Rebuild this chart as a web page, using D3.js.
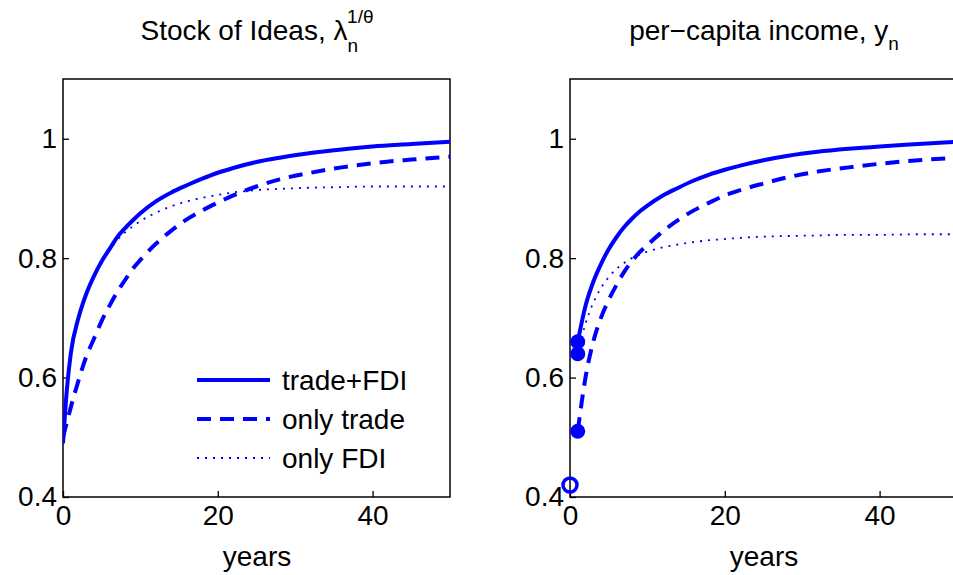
<!DOCTYPE html><html><head><meta charset="utf-8">
<script src="https://cdn.jsdelivr.net/npm/d3@7"></script>
<style>body{margin:0;background:#fff}text{font-family:"Liberation Sans",Arial,sans-serif}</style></head><body>
<svg id="c" width="953" height="575"></svg>
<script>
const years = [0,0.5,1,2,3,4,5,6,7,8,9,10,12,14,16,18,20,22,25,28,32,36,40,45,50];
const ideasTradeFDI = [0.49,0.58,0.64,0.70,0.74,0.77,0.795,0.815,0.835,0.85,0.863,0.875,0.895,0.91,0.922,0.933,0.943,0.951,0.961,0.968,0.976,0.982,0.987,0.991,0.995];
const ideasTrade =    [0.50,0.525,0.55,0.595,0.635,0.665,0.695,0.72,0.743,0.763,0.782,0.797,0.824,0.846,0.865,0.88,0.893,0.905,0.92,0.932,0.943,0.952,0.959,0.965,0.97];
const ideasFDI =      [0.49,0.58,0.64,0.70,0.74,0.77,0.795,0.813,0.83,0.843,0.853,0.862,0.876,0.887,0.895,0.901,0.906,0.91,0.914,0.916,0.918,0.919,0.92,0.92,0.92];
const yYears = [1,2,3,4,5,6,7,8,9,10,12,14,16,18,20,22,25,28,32,36,40,45,50];
const incTradeFDI = [0.66,0.72,0.76,0.79,0.815,0.835,0.852,0.866,0.878,0.888,0.905,0.918,0.93,0.94,0.948,0.955,0.964,0.971,0.978,0.983,0.987,0.991,0.995];
const incTrade =    [0.51,0.60,0.66,0.70,0.73,0.755,0.777,0.795,0.81,0.822,0.845,0.864,0.88,0.893,0.905,0.914,0.925,0.935,0.945,0.952,0.958,0.964,0.968];
const incFDI =      [0.64,0.69,0.725,0.75,0.768,0.782,0.792,0.8,0.806,0.811,0.818,0.823,0.827,0.83,0.832,0.834,0.836,0.837,0.838,0.839,0.839,0.84,0.84];
const startOpen = [0, 0.42];
const startDots = [[1,0.66],[1,0.64],[1,0.51]];
const xTicks = [0,20,40], yTicks = [0.4,0.6,0.8,1];
const seriesNames = ["trade+FDI","only trade","only FDI"];
const styles = [{w:4,d:null},{w:4,d:"14,9"},{w:1.8,d:"2,6"}];

const svg = d3.select("#c"), blue="#0000ff", FS=28;
function panel(x0, title, sets, markers){
  const x = d3.scaleLinear([0,50],[x0,x0+387]);
  const y = d3.scaleLinear([0.4,1.1],[497,79]);
  const g = svg.append("g");
  g.append("rect").attr("x",x0).attr("y",79).attr("width",387).attr("height",418).attr("fill","none").attr("stroke","#000").attr("stroke-width",1.5);
  g.append("g").attr("transform","translate(0,497)").call(d3.axisBottom(x).tickValues(xTicks).tickSize(-6).tickPadding(8))
   .call(a=>{a.select(".domain").remove();a.selectAll("line").attr("stroke-width",1.3);a.selectAll("text").attr("font-size",FS).attr("fill","#000");});
  g.append("g").attr("transform",`translate(${x0},0)`).call(d3.axisLeft(y).tickValues(yTicks).tickSize(-6).tickPadding(6).tickFormat(d3.format("")))
   .call(a=>{a.select(".domain").remove();a.selectAll("line").attr("stroke-width",1.3);a.selectAll("text").attr("font-size",FS).attr("fill","#000");});
  g.append("text").attr("x",x0+194).attr("y",566).attr("text-anchor","middle").attr("font-size",FS).text("years");
  g.append("text").attr("x",x0+194).attr("y",40).attr("text-anchor","middle").attr("font-size",FS).html(title);
  const cp = "clip"+x0;
  g.append("clipPath").attr("id",cp).append("rect").attr("x",x0).attr("y",79).attr("width",387).attr("height",418);
  sets.forEach((s,i)=>{
    g.append("path").attr("clip-path",`url(#${cp})`).datum(s.t.map((t,j)=>[t,s.v[j]]))
     .attr("d",d3.line().x(d=>x(d[0])).y(d=>y(d[1])).curve(d3.curveMonotoneX))
     .attr("fill","none").attr("stroke",blue).attr("stroke-width",styles[i].w).attr("stroke-dasharray",styles[i].d);
  });
  if(markers){
    g.append("circle").attr("cx",x(startOpen[0])).attr("cy",y(startOpen[1])).attr("r",7).attr("fill","none").attr("stroke",blue).attr("stroke-width",3.5);
    startDots.forEach(d=>g.append("circle").attr("cx",x(d[0])).attr("cy",y(d[1])).attr("r",7.5).attr("fill",blue));
  }
  return g;
}
const gl = panel(63,'Stock of Ideas, λ<tspan dy="12" font-size="19">n</tspan><tspan dx="-11" dy="-29" font-size="19">1/θ</tspan>',
  [{t:years,v:ideasTradeFDI},{t:years,v:ideasTrade},{t:years,v:ideasFDI}], false);
panel(570,'per−capita income, y<tspan dy="10" font-size="19">n</tspan>',
  [{t:yYears,v:incTradeFDI},{t:yYears,v:incTrade},{t:yYears,v:incFDI}], true);
seriesNames.forEach((n,i)=>{
  const yy = 380 + i*39;
  gl.append("line").attr("x1",197).attr("x2",270).attr("y1",yy).attr("y2",yy).attr("stroke",blue).attr("stroke-width",styles[i].w).attr("stroke-dasharray",styles[i].d);
  gl.append("text").attr("x",282).attr("y",yy+10).attr("font-size",FS).text(n);
});
</script></body></html>
